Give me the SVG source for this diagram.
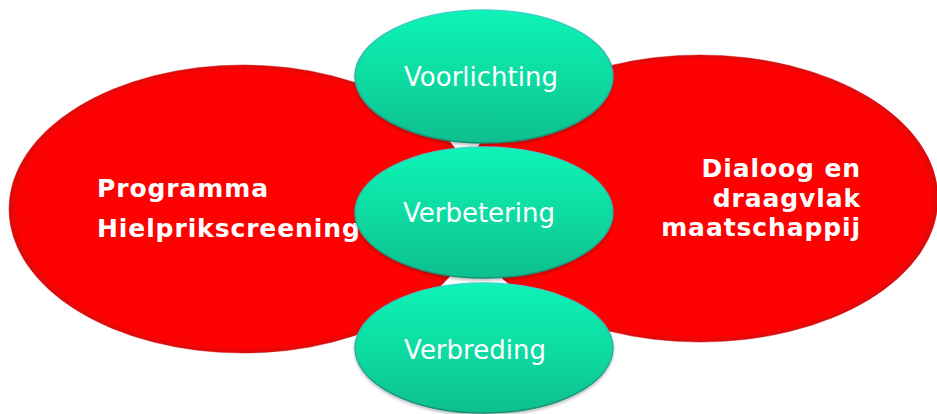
<svg xmlns="http://www.w3.org/2000/svg" width="937" height="414" viewBox="0 0 937 414">
  <defs>
    <radialGradient id="redFill" cx="50%" cy="50%" r="50%">
      <stop offset="0" stop-color="#ff0000"/>
      <stop offset="0.96" stop-color="#fd0202"/>
      <stop offset="1" stop-color="#dc0a0a"/>
    </radialGradient>
    <linearGradient id="greenFill" x1="0" y1="0" x2="0" y2="1">
      <stop offset="0" stop-color="#0ef4b6"/>
      <stop offset="0.5" stop-color="#0ddca2"/>
      <stop offset="1" stop-color="#10bf8f"/>
    </linearGradient>
    <linearGradient id="greenRim" x1="0" y1="0" x2="0" y2="1">
      <stop offset="0" stop-color="#38d6cc"/>
      <stop offset="1" stop-color="#178f72"/>
    </linearGradient>
    <filter id="soft" x="-10%" y="-10%" width="120%" height="125%">
      <feGaussianBlur in="SourceAlpha" stdDeviation="1.5"/>
      <feOffset dy="1.5" result="b"/>
      <feFlood flood-color="#000" flood-opacity="0.25"/>
      <feComposite in2="b" operator="in" result="s"/>
      <feMerge><feMergeNode in="s"/><feMergeNode in="SourceGraphic"/></feMerge>
    </filter>
  </defs>
  <style>
    .red { fill: url(#redFill); stroke: #c80a0a; stroke-width: 1; stroke-opacity: 0.5; }
    .green { fill: url(#greenFill); stroke: url(#greenRim); stroke-width: 1.5; filter: url(#soft); }
    .glabel { font-family: "DejaVu Sans", Verdana, sans-serif; font-size: 26px; fill: #ffffff; text-anchor: middle; }
    .rlabel { font-family: "DejaVu Sans", Verdana, sans-serif; font-size: 25px; font-weight: bold; fill: #ffffff; letter-spacing: 0.9px; }
  </style>
  <rect width="937" height="414" fill="#ffffff"/>

  <g id="programma">
    <ellipse class="red" cx="243" cy="209" rx="234" ry="144"/>
    <text class="rlabel" x="97" y="197">Programma</text>
    <text class="rlabel" x="97" y="237">Hielprikscreening</text>
  </g>

  <g id="dialoog">
    <ellipse class="red" cx="700" cy="198.5" rx="238" ry="143.5"/>
    <text class="rlabel" x="861" y="177" text-anchor="end">Dialoog en</text>
    <text class="rlabel" x="861" y="207" text-anchor="end">draagvlak</text>
    <text class="rlabel" x="861" y="236" text-anchor="end">maatschappij</text>
  </g>

  <g id="voorlichting">
    <ellipse class="green" cx="484" cy="76.5" rx="129" ry="66.5"/>
    <text class="glabel" x="481" y="86">Voorlichting</text>
  </g>

  <g id="verbetering">
    <ellipse class="green" cx="484" cy="212.5" rx="129" ry="65.5"/>
    <text class="glabel" x="479" y="222">Verbetering</text>
  </g>

  <g id="verbreding">
    <ellipse class="green" cx="484" cy="348" rx="129" ry="65"/>
    <text class="glabel" x="475" y="359">Verbreding</text>
  </g>

  <g id="connectors"/>
</svg>
